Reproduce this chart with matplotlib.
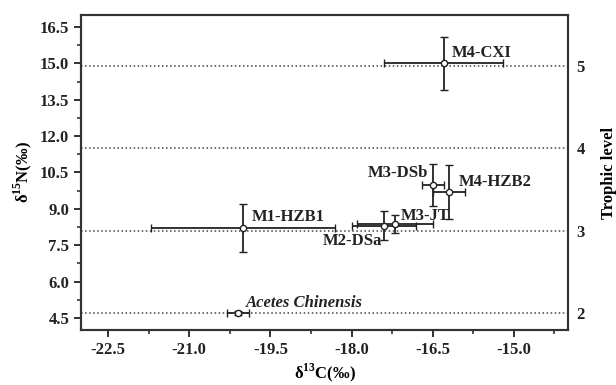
import numpy as np
import matplotlib
matplotlib.use('Agg')
import matplotlib.pyplot as plt
from matplotlib.ticker import MultipleLocator

# isotope data (delta13C, delta15N) with SD
names = ['Acetes Chinensis', 'M1-HZB1', 'M2-DSa', 'M3-JT', 'M3-DSb', 'M4-HZB2', 'M4-CXI']
d13c = [-20.1, -20.0, -17.4, -17.2, -16.5, -16.2, -16.3]
d13c_sd = [0.2, 1.7, 0.6, 0.7, 0.2, 0.3, 1.1]
d15n = [4.7, 8.2, 8.3, 8.37, 10.0, 9.7, 15.0]
d15n_sd = [0.1, 1.0, 0.6, 0.36, 0.87, 1.13, 1.1]

# label positions (data coords) and alignment
lab_x = [-19.96, -19.84, -17.43, -17.09, -16.59, -16.01, -16.14]
lab_y = [5.11, 8.67, 7.67, 8.71, 10.48, 10.11, 15.43]
lab_ha = ['left', 'left', 'right', 'left', 'right', 'left', 'left']

# trophic levels
base_n = 4.7
step_n = 3.4
levels = [2, 3, 4, 5]

plt.rcParams['font.family'] = ['Liberation Serif', 'DejaVu Serif']
plt.rcParams['font.weight'] = 'bold'
plt.rcParams['mathtext.fontset'] = 'custom'
plt.rcParams['mathtext.rm'] = 'Liberation Serif:bold'
plt.rcParams['mathtext.bf'] = 'Liberation Serif:bold'

fig = plt.figure(figsize=(6.16, 3.85), dpi=100)
ax = fig.add_axes([81/616, 1-330/385, (568-81)/616, (330-15)/385])

ylo, yhi = 4.0, 17.0
for lv in levels:
    ax.axhline(base_n + (lv - 2) * step_n, color='#444444', ls=':', lw=1.1, zorder=1)

ax.errorbar(d13c, d15n, xerr=d13c_sd, yerr=d15n_sd, fmt='o', ms=4.5,
            mfc='white', mec='#222222', mew=1.0, ecolor='#222222',
            elinewidth=1.3, capsize=3, capthick=1.3, zorder=3)

for i in range(len(names)):
    style = 'italic' if i == 0 else 'normal'
    ax.text(lab_x[i], lab_y[i], names[i], ha=lab_ha[i], va='center',
            fontsize=12, fontweight='bold', style=style, color='#222222')

ax.set_xlim(-23, -14)
ax.set_ylim(ylo, yhi)
ax.xaxis.set_minor_locator(MultipleLocator(0.75))
ax.yaxis.set_minor_locator(MultipleLocator(0.75))
ax.set_xticks(np.arange(-22.5, -14.9, 1.5))
ax.set_xticklabels(['%.1f' % v for v in np.arange(-22.5, -14.9, 1.5)])
ax.set_yticks(np.arange(4.5, 16.6, 1.5))
ax.set_yticklabels(['%.1f' % v for v in np.arange(4.5, 16.6, 1.5)])
ax.tick_params(which='major', direction='out', length=5, width=1.3, labelsize=12, colors='#222222')
ax.tick_params(which='minor', direction='out', length=3, width=1.1, colors='#222222')
for s in ax.spines.values():
    s.set_linewidth(1.5)
    s.set_color('#333333')

ax.set_xlabel(r'δ$^{\mathbf{13}}$C(‰)', fontsize=12, fontweight='bold', labelpad=3)
ax.set_ylabel(r'δ$^{\mathbf{15}}$N(‰)', fontsize=12, fontweight='bold', labelpad=4)

ax2 = ax.twinx()
ax2.set_ylim((ylo - base_n) / step_n + 2, (yhi - base_n) / step_n + 2)
ax2.set_yticks(levels)
ax2.set_yticklabels([str(v) for v in levels])
ax2.tick_params(axis='y', length=0, pad=6, labelsize=12, colors='#222222')
ax2.set_ylabel('Trophic level', fontsize=12, fontweight='bold', labelpad=12)
for s in ax2.spines.values():
    s.set_linewidth(1.5)
    s.set_color('#333333')

fig.savefig('out.png', dpi=100)
